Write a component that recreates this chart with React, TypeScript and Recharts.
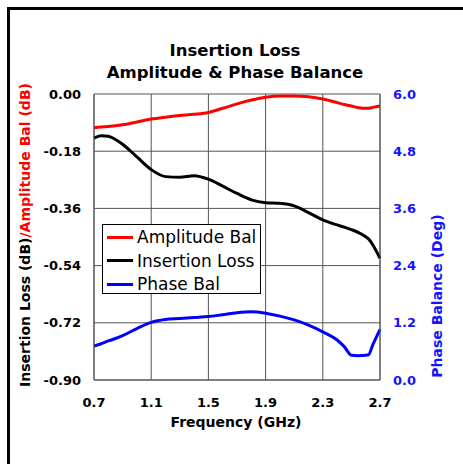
import React from 'react';
import { LineChart, Line, XAxis, YAxis, CartesianGrid, Legend } from 'recharts';

const freq = [0.7, 0.75, 0.8, 0.85, 0.9, 1.0, 1.1, 1.2, 1.3, 1.4, 1.5, 1.6, 1.7, 1.8, 1.9, 2.0, 2.1, 2.2, 2.3, 2.4, 2.45, 2.5, 2.55, 2.6, 2.62, 2.65, 2.7];
const ampBal = [-0.106, -0.104, -0.102, -0.1, -0.097, -0.088, -0.079, -0.073, -0.068, -0.064, -0.058, -0.045, -0.031, -0.019, -0.01, -0.006, -0.006, -0.009, -0.016, -0.027, -0.033, -0.038, -0.043, -0.045, -0.045, -0.042, -0.038];
const insLoss = [-0.139, -0.131, -0.133, -0.143, -0.158, -0.198, -0.238, -0.26, -0.262, -0.257, -0.268, -0.29, -0.313, -0.333, -0.342, -0.344, -0.352, -0.373, -0.396, -0.412, -0.419, -0.427, -0.436, -0.449, -0.456, -0.475, -0.517];
const phaseBal = [0.71, 0.76, 0.82, 0.87, 0.93, 1.08, 1.21, 1.27, 1.29, 1.31, 1.33, 1.37, 1.41, 1.43, 1.4, 1.34, 1.26, 1.15, 1.01, 0.84, 0.7, 0.52, 0.51, 0.52, 0.53, 0.74, 1.06];

const xTicks = [0.7, 1.1, 1.5, 1.9, 2.3, 2.7];
const leftTicks = [-0.9, -0.72, -0.54, -0.36, -0.18, 0];
const rightTicks = [0, 1.2, 2.4, 3.6, 4.8, 6.0];

const seriesNames = ['Amplitude Bal', 'Insertion Loss', 'Phase Bal'];
const seriesColors = ['#ff0000', '#000000', '#0000ff'];

const data = freq.map((f, i) => ({ f, amp: ampBal[i], il: insLoss[i], ph: phaseBal[i] }));

const FONT = '"DejaVu Sans", Verdana, sans-serif';
const BLUE = '#1414ff';

const LegendBox = () => (
  <div
    style={{
      position: 'relative',
      width: 159,
      height: 70,
      boxSizing: 'border-box',
      border: '1px solid #000',
      background: '#fff',
      fontFamily: FONT,
      fontSize: 17,
    }}
  >
    {seriesNames.map((n, i) => (
      <div key={n} style={{ position: 'absolute', left: 4, top: 1 + i * 23.5, height: 22, display: 'flex', alignItems: 'center', whiteSpace: 'nowrap' }}>
        <div style={{ width: 26, height: 3, background: seriesColors[i], marginRight: 4 }} />
        <span style={{ color: '#000' }}>{n}</span>
      </div>
    ))}
  </div>
);

export default function App() {
  return (
    <div style={{ position: 'absolute', left: 0, top: 0, width: 463, height: 464, overflow: 'hidden', background: '#fff' }}>
      <div style={{ position: 'absolute', left: 7, top: 7, width: 470, height: 470, borderTop: '3px solid #000', borderLeft: '3px solid #000' }} />
      <div style={{ position: 'absolute', left: 0, top: 0 }}>
        <LineChart width={463} height={464} data={data} margin={{ top: 94, right: 0, bottom: 0, left: 0 }}>
          <CartesianGrid yAxisId="left" stroke="#555" strokeWidth={1} />
          <XAxis
            dataKey="f"
            type="number"
            domain={[0.7, 2.7]}
            ticks={xTicks}
            tickFormatter={(v: number) => v.toFixed(1)}
            height={84}
            tickLine={false}
            axisLine={{ stroke: '#555' }}
            tickSize={8}
            tickMargin={10}
            tick={{ fill: '#000', fontFamily: FONT, fontSize: 13, fontWeight: 'bold' }}
          />
          <YAxis
            yAxisId="left"
            domain={[-0.9, 0]}
            ticks={leftTicks}
            tickFormatter={(v: number) => v.toFixed(2)}
            width={94}
            tickLine={false}
            axisLine={{ stroke: '#555' }}
            tickSize={6}
            tickMargin={7}
            tick={{ fill: '#000', fontFamily: FONT, fontSize: 13, fontWeight: 'bold' }}
          />
          <YAxis
            yAxisId="right"
            orientation="right"
            domain={[0, 6]}
            ticks={rightTicks}
            tickFormatter={(v: number) => v.toFixed(1)}
            width={83}
            tickLine={false}
            axisLine={{ stroke: '#555' }}
            tickSize={6}
            tickMargin={7}
            tick={{ fill: BLUE, fontFamily: FONT, fontSize: 13, fontWeight: 'bold', textAnchor: 'start' }}
          />
          <Legend
            layout="horizontal"
            verticalAlign="middle"
            align="center"
            wrapperStyle={{ left: 102, top: 224, width: 159, height: 70 }}
            content={() => <LegendBox />}
          />
          <Line yAxisId="left" type="monotone" dataKey="amp" name={seriesNames[0]} stroke={seriesColors[0]} strokeWidth={3} dot={false} isAnimationActive={false} />
          <Line yAxisId="left" type="monotone" dataKey="il" name={seriesNames[1]} stroke={seriesColors[1]} strokeWidth={3} dot={false} isAnimationActive={false} />
          <Line yAxisId="right" type="monotone" dataKey="ph" name={seriesNames[2]} stroke={seriesColors[2]} strokeWidth={3} dot={false} isAnimationActive={false} />
          <text x={235} y={56} textAnchor="middle" fontFamily={FONT} fontSize={16.5} fontWeight="bold" fill="#000">Insertion Loss</text>
          <text x={235} y={77.5} textAnchor="middle" fontFamily={FONT} fontSize={16.5} fontWeight="bold" fill="#000">Amplitude &amp; Phase Balance</text>
          <text x={236} y={427} textAnchor="middle" fontFamily={FONT} fontSize={14} fontWeight="bold" fill="#000">Frequency (GHz)</text>
          <text x={30} y={235} transform="rotate(-90 30 235)" textAnchor="middle" fontFamily={FONT} fontSize={14} fontWeight="bold">
            <tspan fill="#000">Insertion Loss (dB)</tspan>
            <tspan fill="#ff0000">/Amplitude Bal (dB)</tspan>
          </text>
          <text x={442} y={296} transform="rotate(-90 442 296)" textAnchor="middle" fontFamily={FONT} fontSize={14} fontWeight="bold" fill={BLUE}>Phase Balance (Deg)</text>
        </LineChart>
      </div>
    </div>
  );
}
